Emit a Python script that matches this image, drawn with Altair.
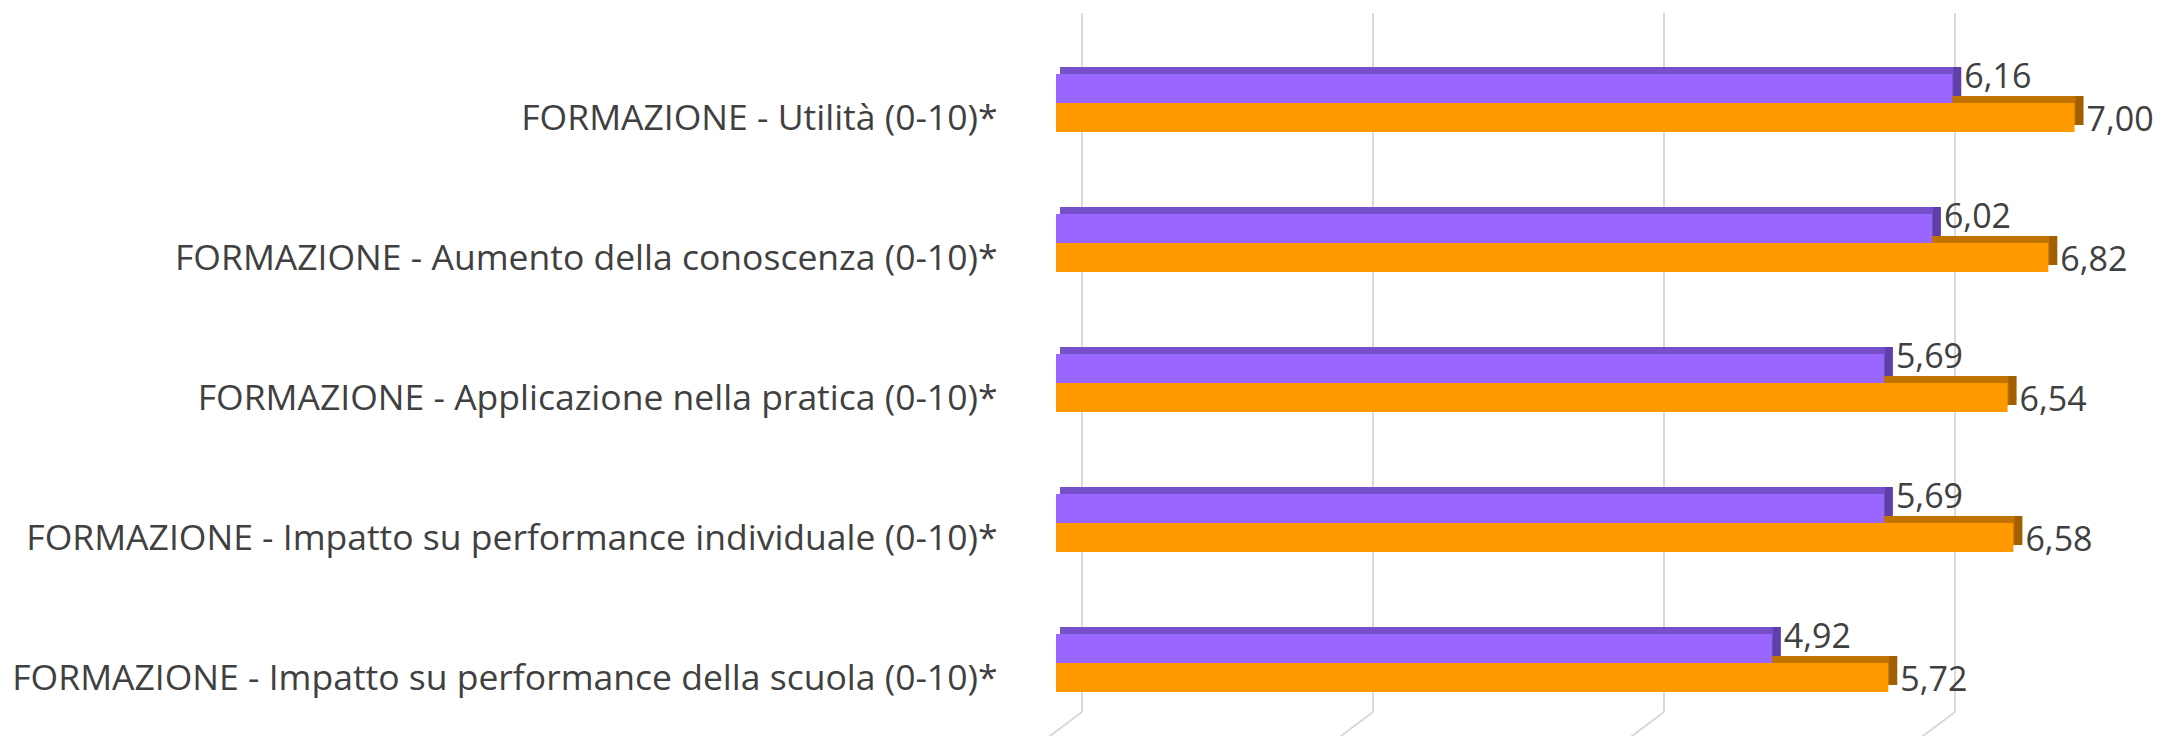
import altair as alt
import pandas as pd

categories = [
    "FORMAZIONE - Utilità (0-10)*",
    "FORMAZIONE - Aumento della conoscenza (0-10)*",
    "FORMAZIONE - Applicazione nella pratica (0-10)*",
    "FORMAZIONE - Impatto su performance individuale (0-10)*",
    "FORMAZIONE - Impatto su performance della scuola (0-10)*",
]
serie_viola = [6.16, 6.02, 5.69, 5.69, 4.92]
serie_arancio = [7.00, 6.82, 6.54, 6.58, 5.72]
grid_ticks = [0, 2, 4, 6]

def fmt(v):
    return f"{v:.2f}".replace(".", ",")

df_v = pd.DataFrame({"cat": categories, "v": serie_viola, "lab": [fmt(v) for v in serie_viola]})
df_o = pd.DataFrame({"cat": categories, "v": serie_arancio, "lab": [fmt(v) for v in serie_arancio]})
df_g = pd.DataFrame({"g": grid_ticks})

FONT = "Open Sans"
TXT = "#404040"
GRID = "#D9D9D9"

PURPLE = "#9966FF"
PURPLE_TOP = "#7650C8"
PURPLE_SIDE = "#6040A8"
ORANGE = "#FF9900"
ORANGE_TOP = "#C07300"
ORANGE_SIDE = "#A06000"

BAR = 29
DX = 9
DY = 7

xscale = alt.Scale(domain=[0, 7.56], nice=False, zero=True)
yscale = alt.Scale(domain=categories, paddingInner=0, paddingOuter=0)
yaxis = alt.Axis(
    title=None, domain=False, ticks=False, tickSize=0, grid=False,
    labelFont=FONT, labelFontSize=35.5, labelColor=TXT, labelPadding=59,
    labelOffset=16, labelLimit=0,
)

def Y():
    return alt.Y("cat:N", sort=categories, scale=yscale, axis=yaxis)

def X(field="v"):
    return alt.X(f"{field}:Q", scale=xscale, axis=None)

grid = alt.Chart(df_g).mark_rule(color=GRID, strokeWidth=2, xOffset=26).encode(
    x=X("g"), y=alt.value(-20), y2=alt.value(679)
)
floor = alt.Chart(df_g).mark_rule(color=GRID, strokeWidth=2, xOffset=26, x2Offset=-18).encode(
    x=X("g"), x2=alt.X2("g:Q"), y=alt.value(679), y2=alt.value(712)
)

def faces(df, center_off, side_col, top_col):
    side = alt.Chart(df).mark_bar(
        size=BAR, yOffset=center_off - DY, xOffset=DX, x2Offset=DX, color=side_col
    ).encode(x=X(), x2=alt.datum(0), y=Y())
    top = alt.Chart(df).mark_bar(
        size=BAR, yOffset=center_off - DY, xOffset=1, x2Offset=4, color=top_col
    ).encode(x=X(), x2=alt.datum(0), y=Y())
    return side + top

def front(df, center_off, col):
    return alt.Chart(df).mark_bar(size=BAR, yOffset=center_off, color=col).encode(
        x=X(), x2=alt.datum(0), y=Y()
    )

def labels(df, dy):
    return alt.Chart(df).mark_text(
        align="left", baseline="alphabetic", dx=12, dy=dy,
        font=FONT, fontSize=34, color=TXT
    ).encode(x=X(), y=Y(), text="lab:N")

chart = alt.layer(
    grid, floor,
    faces(df_o, BAR / 2, ORANGE_SIDE, ORANGE_TOP),
    faces(df_v, -BAR / 2, PURPLE_SIDE, PURPLE_TOP),
    front(df_o, BAR / 2, ORANGE),
    front(df_v, -BAR / 2, PURPLE),
    labels(df_v, -15),
    labels(df_o, 28),
).properties(
    width=1100, height=700,
    autosize=alt.AutoSizeParams(type="none"),
    padding={"left": 1048, "top": 25, "right": 0, "bottom": 3},
    background="white",
).configure_view(stroke=None)

chart.save("out.html", embed_options={"renderer": "svg", "actions": False})
